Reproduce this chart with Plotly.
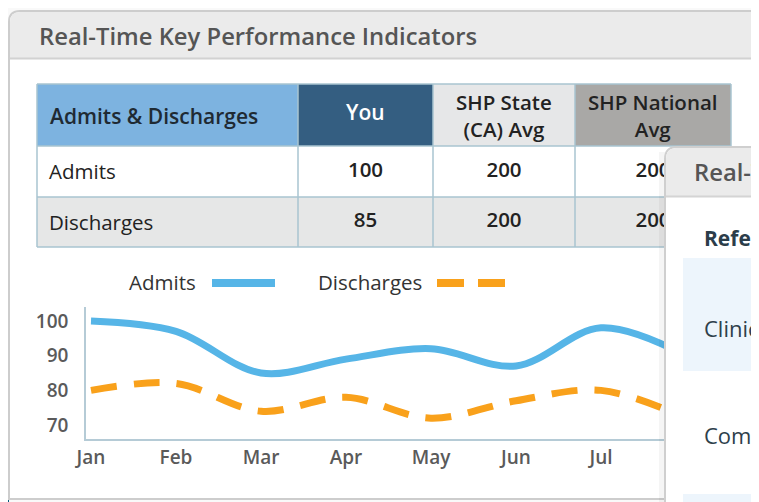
import plotly.graph_objects as go

# ---------------- data ----------------
months = ["Jan", "Feb", "Mar", "Apr", "May", "Jun", "Jul", "Aug"]
admits = [100, 97, 85, 89, 92, 87, 98, 90]
discharges = [80, 82, 74, 78, 72, 77, 80, 72]

table_header = ["Admits & Discharges", "You", "SHP State<br>(CA) Avg", "SHP National<br>Avg"]
row_labels = ["Admits", "Discharges"]
you_vals = [100, 85]
state_vals = [200, 200]
national_vals = [200, 200]

y_ticks = [70, 80, 90, 100]

panel_title = "Real-Time Key Performance Indicators"
side_title = "Real-Time Key Performance Indicators"
side_head = "Referral Source"
side_rows = ["Clinical", "Community"]

# ---------------- helpers ----------------
W, H = 759, 502
OFF = 8  # page offset of the plot div
FONT = "Open Sans"


def px(x):
    return (x - OFF) / W


def py(y):
    return 1 - (y - OFF) / H


def rr_path(x0, y0, x1, y1, r):
    """rectangle with rounded top-left corner (pixel coords -> paper)"""
    return (f"M {px(x0)},{py(y1)} L {px(x0)},{py(y0 + r)} "
            f"Q {px(x0)},{py(y0)} {px(x0 + r)},{py(y0)} "
            f"L {px(x1)},{py(y0)} L {px(x1)},{py(y1)} Z")


shapes = []
annotations = []


def rect(x0, y0, x1, y1, fill, line_color=None, lw=0, layer="below"):
    shapes.append(dict(type="rect", xref="paper", yref="paper",
                       x0=px(x0), x1=px(x1), y0=py(y1), y1=py(y0),
                       fillcolor=fill, layer=layer,
                       line=dict(color=line_color or "rgba(0,0,0,0)", width=lw)))


def hline(x0, x1, y, color, w, layer="below", dash="solid"):
    shapes.append(dict(type="line", xref="paper", yref="paper",
                       x0=px(x0), x1=px(x1), y0=py(y), y1=py(y),
                       line=dict(color=color, width=w, dash=dash), layer=layer))


def vline(x, y0, y1, color, w, layer="below"):
    shapes.append(dict(type="line", xref="paper", yref="paper",
                       x0=px(x), x1=px(x), y0=py(y0), y1=py(y1),
                       line=dict(color=color, width=w), layer=layer))


def text(x, y, s, size, color, xanchor="left", weight=400):
    annotations.append(dict(xref="paper", yref="paper", x=px(x), y=py(y),
                            text=s, showarrow=False, xanchor=xanchor, yanchor="middle",
                            align="center" if xanchor == "center" else "left",
                            font=dict(family=FONT, size=size, color=color, weight=weight)))


# ---------------- background ----------------
rect(0, 47, 9, 502, "#03597c")
rect(0, 295, 9, 372, "#17698b")

# main panel
shapes.append(dict(type="path", xref="paper", yref="paper", layer="below",
                   path=rr_path(9, 11, 790, 499, 11), fillcolor="#ffffff",
                   line=dict(color="#cdcdcd", width=2)))
shapes.append(dict(type="path", xref="paper", yref="paper", layer="below",
                   path=rr_path(10, 12, 790, 58, 10), fillcolor="#ebebeb",
                   line=dict(color="rgba(0,0,0,0)", width=0)))
hline(10, 790, 58.5, "#d2d2d2", 2)
text(37, 36, panel_title, 23.8, "#555555", weight=600)

# ---------------- table ----------------
col_edges = [37, 298, 433, 575, 731]
row_edges = [84, 146, 197, 247]
head_fills = ["#7db3e0", "#345e81", "#e6e7e8", "#a9a8a6"]
head_text_colors = ["#1f2a33", "#ffffff", "#222222", "#222222"]
row_fills = ["#ffffff", "#e6e7e7"]
border = "#a9c4d1"

for c in range(4):
    rect(col_edges[c], row_edges[0], col_edges[c + 1], row_edges[1], head_fills[c])
for r in range(2):
    rect(col_edges[0], row_edges[r + 1], col_edges[4], row_edges[r + 2], row_fills[r])
for yv in row_edges:
    hline(col_edges[0], col_edges[4], yv, border, 1.5)
for xv in col_edges:
    vline(xv, row_edges[0], row_edges[-1], border, 1.5)

col_centers = [(col_edges[i] + col_edges[i + 1]) / 2 for i in range(4)]
text(48, 116, table_header[0], 21, head_text_colors[0], weight=600)
text(col_centers[1], 112, table_header[1], 21, head_text_colors[1], "center", weight=600)
text(col_centers[2], 115, table_header[2], 20.5, head_text_colors[2], "center", weight=600)
text(col_centers[3], 115, table_header[3], 20.5, head_text_colors[3], "center", weight=600)
row_mid = [(row_edges[i + 1] + row_edges[i + 2]) / 2 for i in range(2)]
for i, lab in enumerate(row_labels):
    text(47, row_mid[i], lab, 20.5, "#222222")

# ---------------- figure ----------------
fig = go.Figure()

fig.add_trace(go.Scatter(x=months, y=admits, mode="lines", name="Admits",
                         line=dict(color="#56b5e7", width=7, shape="spline", smoothing=1.0),
                         showlegend=False, cliponaxis=True))
fig.add_trace(go.Scatter(x=months, y=discharges, mode="lines", name="Discharges",
                         line=dict(color="#f9a11b", width=7, shape="spline", smoothing=1.0,
                                   dash="26px,17px"),
                         showlegend=False, cliponaxis=True))

# table values as text on a pixel helper axis (so the side panel can cover them)
for col_i, vals in zip([1, 2, 3], [you_vals, state_vals, national_vals]):
    fig.add_trace(go.Scatter(x=[col_centers[col_i]] * len(vals), y=row_mid,
                             text=[str(v) for v in vals], mode="text",
                             textfont=dict(family=FONT, size=20.5, color="#222222", weight=600),
                             textposition="middle center", showlegend=False,
                             cliponaxis=False, xaxis="x2", yaxis="y2", hoverinfo="skip"))

# legend (text then line sample)
text(198, 282, "Admits", 20.5, "#333333", "right")
hline(212, 275, 283, "#56b5e7", 8, layer="above")
text(424, 282, "Discharges", 20.5, "#333333", "right")
hline(437, 508, 283, "#f9a11b", 8, layer="above", dash="27px,14px")

# ---------------- side (overlay) panel ----------------
rect(659, 152, 665, 520, "rgba(0,0,0,0.04)", layer="above")
shapes.append(dict(type="path", xref="paper", yref="paper", layer="above",
                   path=rr_path(665, 147, 800, 530, 12), fillcolor="#ffffff",
                   line=dict(color="#cfcfcf", width=2)))
shapes.append(dict(type="path", xref="paper", yref="paper", layer="above",
                   path=rr_path(666, 148, 800, 196, 11), fillcolor="#ebebeb",
                   line=dict(color="rgba(0,0,0,0)", width=0)))
hline(666, 800, 196.5, "#d4d4d4", 2, layer="above")
rect(683, 258, 800, 371, "#edf5fc", layer="above")
rect(683, 494, 800, 530, "#edf5fc", layer="above")
text(692, 172, side_title, 23.8, "#555555", weight=600)
text(702, 238, side_head, 21, "#2b3d4a", weight=700)
text(702, 328, side_rows[0], 22, "#2e3f4b")
text(702, 435, side_rows[1], 22, "#2e3f4b")

x_start = (86 - 91) / 85.0
x_end = (720 - 91) / 85.0

fig.update_layout(
    width=W, height=H, autosize=False,
    margin=dict(l=0, r=0, t=0, b=0, autoexpand=False),
    paper_bgcolor="#f9f9f9",
    plot_bgcolor="rgba(0,0,0,0)",
    showlegend=False,
    shapes=shapes,
    annotations=annotations,
    font=dict(family=FONT),
    xaxis=dict(type="category", categoryorder="array", categoryarray=months,
               domain=[px(86), px(720)], range=[x_start, x_end],
               showline=True, linecolor="#b5cbd6", linewidth=1.5,
               showgrid=False, zeroline=False, ticks="outside", ticklen=0,
               tickcolor="rgba(0,0,0,0)", automargin=False,
               tickfont=dict(family=FONT, size=19, color="#5a5a5a", weight=600),
               anchor="y", fixedrange=True),
    yaxis=dict(domain=[py(439), py(307)], range=[66, 104], tickvals=y_ticks,
               showline=True, linecolor="#b5cbd6", linewidth=1.5,
               showgrid=False, zeroline=False, ticks="outside", ticklen=12,
               tickcolor="rgba(0,0,0,0)", automargin=False,
               tickfont=dict(family=FONT, size=19, color="#5a5a5a", weight=600),
               anchor="x", fixedrange=True),
    xaxis2=dict(domain=[0, 1], range=[OFF, W + OFF], visible=False, anchor="y2",
                fixedrange=True, automargin=False),
    yaxis2=dict(domain=[0, 1], range=[H + OFF, OFF], visible=False, anchor="x2",
                fixedrange=True, automargin=False),
)

fig.write_html("out.html")
